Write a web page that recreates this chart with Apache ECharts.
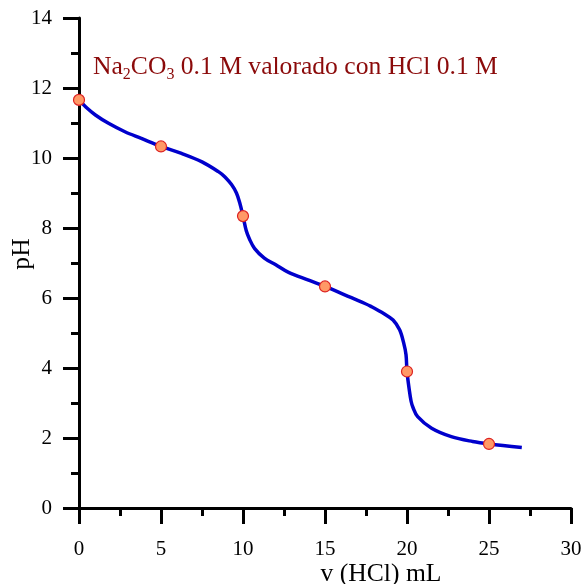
<!DOCTYPE html>
<html>
<head>
<meta charset="utf-8">
<script src="https://cdn.jsdelivr.net/npm/echarts@6/dist/echarts.min.js"></script>
<style>
  html, body { margin: 0; padding: 0; background: #fff; }
  #chart { width: 585px; height: 584px; }
</style>
</head>
<body>
<div id="chart"></div>
<script>
  // curve: volume of HCl (mL) and pH
  const curveV = [0, 0.5, 1, 1.8, 2.8, 3.8, 5, 6.25, 7.5, 8.5, 8.9, 9.3, 9.6, 9.8, 10, 10.2, 10.4, 10.7, 11.3, 12, 12.75, 14, 15, 16.2, 17.4, 17.8, 18.6, 19.15, 19.55, 19.8, 19.94, 20, 20.14, 20.25, 20.36, 20.65, 21.5, 22.7, 24, 25, 27]
  const curvePH = [11.66, 11.42, 11.23, 10.99, 10.75, 10.56, 10.33, 10.13, 9.89, 9.61, 9.46, 9.24, 9.0, 8.72, 8.34, 7.92, 7.68, 7.42, 7.14, 6.95, 6.74, 6.51, 6.33, 6.09, 5.85, 5.76, 5.55, 5.37, 5.09, 4.71, 4.38, 3.9, 3.37, 3.05, 2.88, 2.61, 2.28, 2.04, 1.9, 1.83, 1.73]

  // marked points
  const pointV = [0, 5, 10, 15, 20, 25]
  const pointPH = [11.66, 10.33, 8.34, 6.33, 3.9, 1.83]

  const serif = 'Liberation Serif, Times New Roman, serif'

  const myChart = echarts.init(document.getElementById('chart'))

  const axisCommon = {
    type: 'value',
    axisLine: { show: true, onZero: false, lineStyle: { color: '#000', width: 3 } },
    axisTick: { show: true, inside: false, length: 16, lineStyle: { color: '#000', width: 3 } },
    minorTick: { show: true, splitNumber: 2, length: 8, lineStyle: { color: '#000', width: 3 } },
    splitLine: { show: false },
    minorSplitLine: { show: false }
  }

  const option = {
    animation: false,
    grid: { left: 79, right: 14, top: 18, bottom: 76, containLabel: false },
    xAxis: Object.assign({}, axisCommon, {
      min: 0, max: 30, interval: 5,
      axisLabel: { color: '#000', fontFamily: serif, fontSize: 21, margin: 31 }
    }),
    yAxis: Object.assign({}, axisCommon, {
      min: 0, max: 14, interval: 2,
      axisLabel: { color: '#000', fontFamily: serif, fontSize: 21, margin: 27 }
    }),
    graphic: [
      {
        type: 'text', left: 93, top: 54,
        style: {
          rich: {
            a: { fontFamily: serif, fontSize: 25.6, fill: '#8b0a0a', lineHeight: 32, verticalAlign: 'middle' },
            s: { fontFamily: serif, fontSize: 16, fill: '#8b0a0a', lineHeight: 16, verticalAlign: 'bottom' }
          },
          text: '{a|Na}{s|2}{a|CO}{s|3}{a| 0.1 M valorado con HCl 0.1 M}'
        }
      },
      {
        type: 'text', x: 381, y: 574,
        style: { text: 'v (HCl) mL', fontFamily: serif, fontSize: 25.6, fill: '#000', align: 'center', verticalAlign: 'middle' }
      },
      {
        type: 'text', x: 22, y: 254, rotation: Math.PI / 2,
        style: { text: 'pH', fontFamily: serif, fontSize: 25.6, fill: '#000', align: 'center', verticalAlign: 'middle' }
      }
    ],
    series: [
      {
        type: 'line',
        data: curveV.map((v, i) => [v, curvePH[i]]),
        smooth: 0.35,
        showSymbol: false,
        lineStyle: { color: '#0000cc', width: 3.5 },
        z: 2
      },
      {
        type: 'scatter',
        data: pointV.map((v, i) => [v, pointPH[i]]),
        symbolSize: 11,
        itemStyle: { color: '#ff9966', opacity: 1, borderColor: '#dd2222', borderWidth: 1.2 },
        z: 3
      }
    ]
  }
  myChart.setOption(option)
</script>
</body>
</html>
